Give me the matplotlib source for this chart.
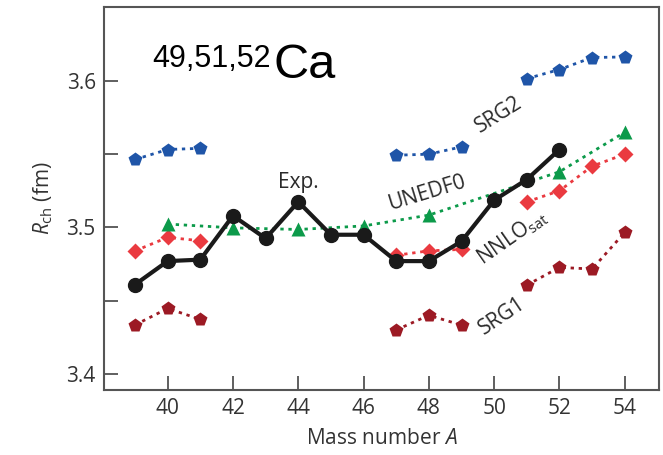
import numpy as np
import matplotlib
matplotlib.use("Agg")
import matplotlib.pyplot as plt

plt.rcParams['font.family'] = ['Open Sans', 'DejaVu Sans']
plt.rcParams['mathtext.fontset'] = 'custom'
plt.rcParams['mathtext.rm'] = 'Open Sans'
plt.rcParams['mathtext.it'] = 'Open Sans:italic'

nan = np.nan
mass = [39, 40, 41, 42, 43, 44, 45, 46, 47, 48, 49, 50, 51, 52, 53, 54]

exp_r = [3.461, 3.477, 3.478, 3.508, 3.4925, 3.5175, 3.495, 3.495,
         3.477, 3.477, 3.4905, 3.5186, 3.5327, 3.5532, nan, nan]
srg2 = [3.5464, 3.5532, 3.554, nan, nan, nan, nan, nan,
        3.5493, 3.550, 3.555, nan, 3.6016, 3.6078, 3.616, 3.6164]
srg1 = [3.4334, 3.4447, 3.4372, nan, nan, nan, nan, nan,
        3.430, 3.440, 3.4333, nan, 3.4606, 3.4727, 3.4716, 3.4966]
nnlo = [3.484, 3.4932, 3.4909, nan, nan, nan, nan, nan,
        3.481, 3.484, 3.485, nan, 3.5175, 3.525, 3.5418, 3.550]
unedf_mass = [40, 42, 44, 46, 48, 52, 54]
unedf = [3.5023, 3.4997, 3.4986, 3.501, 3.5084, 3.538, 3.565]

fig = plt.figure(figsize=(6.63, 4.55), dpi=100)
ax = fig.add_axes([0.1569, 0.1429, 0.8371, 0.8417])

dots = (0, (1.2, 1.7))
ax.plot(mass, srg2, color='#1f55a8', ls=dots, lw=2, marker='p', ms=10.5, mec='none')
ax.plot(mass, srg1, color='#9c1a24', ls=dots, lw=2, marker='p', ms=10.5, mec='none')
ax.plot(mass, nnlo, color='#ea3a40', ls=dots, lw=2, marker='D', ms=8.5, mec='none')
ax.plot(unedf_mass, unedf, color='#0c9a4a', ls=dots, lw=2, marker='^', ms=10, mec='none')
ax.plot(mass, exp_r, color='#1a1a1a', lw=3, marker='o', ms=10, zorder=5)

ax.set_xlim(38.05, 55.05)
ax.set_ylim(3.389, 3.6505)
ax.set_xticks([40, 42, 44, 46, 48, 50, 52, 54])
ax.set_yticks([3.4, 3.5, 3.6])
ax.set_yticks([3.45, 3.55], minor=True)
ax.tick_params(direction='in', length=10, width=1.2, color='#444',
               labelsize=15, labelcolor='#333', pad=6)
ax.tick_params(which='minor', direction='in', length=10, width=1.2, color='#444')
for s in ax.spines.values():
    s.set_color('#555')
    s.set_linewidth(1.5)

ax.set_xlabel('Mass number $A$', fontsize=15, color='#333', labelpad=6)
ax.set_ylabel(r'$R_{\rm ch}$ (fm)', fontsize=15, color='#333', labelpad=8)

tc = '#2a2a2a'
ax.text(44.0, 3.531, 'Exp.', fontsize=15, color=tc, ha='center', va='center')
ax.text(50.15, 3.5766, 'SRG2', fontsize=15, color=tc, ha='center', va='center',
        rotation=32, rotation_mode='anchor')
ax.text(47.95, 3.5233, 'UNEDF0', fontsize=15, color=tc, ha='center', va='center',
        rotation=17, rotation_mode='anchor')
ax.text(50.55, 3.4935, r'NNLO$_{\rm sat}$', fontsize=15, color=tc, ha='center',
        va='center', rotation=35, rotation_mode='anchor')
ax.text(50.24, 3.4395, 'SRG1', fontsize=15, color=tc, ha='center', va='center',
        rotation=34, rotation_mode='anchor')

ax.text(39.52, 3.6095, '49,51,52', fontsize=22, family='Liberation Sans',
        ha='left', va='baseline')
ax.text(43.25, 3.6018, 'Ca', fontsize=35, family='Liberation Sans',
        ha='left', va='baseline')

fig.savefig('out.png', dpi=100)
